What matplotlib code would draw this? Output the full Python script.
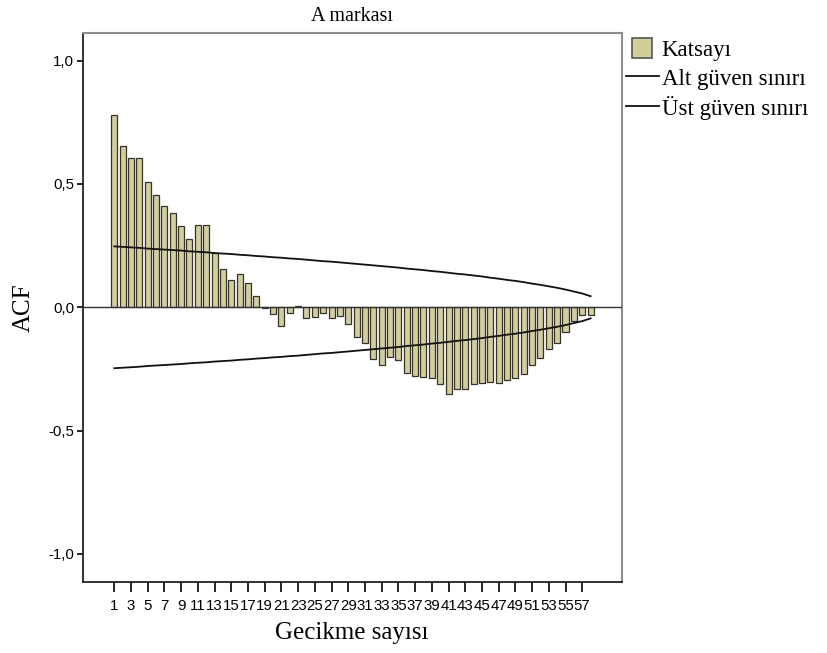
import matplotlib
matplotlib.use("Agg")
import matplotlib.pyplot as plt
import matplotlib.patches as mpatches
from matplotlib.legend_handler import HandlerPatch
import numpy as np

# ACF coefficients for lags 1..58
lags = np.arange(1, 59)
acf = [0.779, 0.653, 0.606, 0.606, 0.509, 0.455, 0.409, 0.381, 0.328, 0.276,
       0.333, 0.333, 0.222, 0.154, 0.111, 0.135, 0.098, 0.046, -0.004, -0.029,
       -0.075, -0.022, 0.004, -0.045, -0.041, -0.025, -0.045, -0.034, -0.069, -0.119,
       -0.146, -0.210, -0.235, -0.201, -0.214, -0.268, -0.279, -0.282, -0.286, -0.309,
       -0.352, -0.333, -0.333, -0.309, -0.305, -0.302, -0.305, -0.296, -0.286, -0.272,
       -0.232, -0.205, -0.170, -0.146, -0.102, -0.054, -0.031, -0.031]

# upper confidence limit per lag (lower limit is its mirror)
upper = [0.247, 0.245, 0.243, 0.241, 0.238, 0.236, 0.234, 0.232, 0.230, 0.227,
         0.225, 0.223, 0.220, 0.218, 0.216, 0.213, 0.211, 0.208, 0.206, 0.203,
         0.201, 0.198, 0.196, 0.193, 0.190, 0.187, 0.185, 0.182, 0.179, 0.176,
         0.173, 0.170, 0.167, 0.164, 0.161, 0.157, 0.154, 0.151, 0.147, 0.144,
         0.140, 0.136, 0.133, 0.129, 0.125, 0.120, 0.116, 0.111, 0.107, 0.102,
         0.096, 0.091, 0.085, 0.079, 0.072, 0.064, 0.056, 0.045]
lower = [-u for u in upper]

xtick_vals = np.arange(1, 58, 2)
ytick_vals = [-1.0, -0.5, 0.0, 0.5, 1.0]
ytick_labels = ["-1,0", "-0,5", "0,0", "0,5", "1,0"]

serif = ["Liberation Serif", "DejaVu Serif"]
sans = ["Liberation Sans", "DejaVu Sans"]


def square_patch(legend, orig_handle, xdescent, ydescent, width, height, fontsize):
    # square swatch inside the wider handle box
    side = height
    return mpatches.Rectangle((-xdescent + 0.16 * width, -ydescent), side, side)


fig = plt.figure(figsize=(8.27, 6.53), dpi=100)
ax = fig.add_axes([0.1000, 0.1083, 0.6517, 0.8407])

bar_color = "#d3ce97"
bars = ax.bar(lags, acf, width=0.72, color=bar_color, edgecolor="#333333",
              linewidth=0.9, label="Katsayı", zorder=2)
ax.axhline(0, color="#333333", linewidth=1.0, zorder=3)
lo_line, = ax.plot(lags, lower, color="#111111", linewidth=1.3,
                   label="Alt güven sınırı", zorder=4)
up_line, = ax.plot(lags, upper, color="#111111", linewidth=1.3,
                   label="Üst güven sınırı", zorder=4)

ax.set_xlim(-2.78, 61.72)
ax.set_ylim(-1.115, 1.111)

ax.set_xticks(xtick_vals)
ax.set_xticklabels([str(v) for v in xtick_vals], family=sans, fontsize=10.8)
ax.set_yticks(ytick_vals)
ax.set_yticklabels(ytick_labels, family=sans, fontsize=10.8)
ax.tick_params(axis="x", direction="out", length=7, width=1.2, pad=5)
ax.tick_params(axis="y", direction="out", length=4, width=1.2, pad=2)

for side in ["top", "right"]:
    ax.spines[side].set_color("#8c8c8c")
    ax.spines[side].set_linewidth(1.5)
for side in ["left", "bottom"]:
    ax.spines[side].set_color("#222222")
    ax.spines[side].set_linewidth(1.3)

ax.set_title("A markası", family=serif, fontsize=14.5, pad=9)
ax.set_xlabel("Gecikme sayısı", family=serif, fontsize=18)
ax.set_ylabel("ACF", family=serif, fontsize=18)
ax.xaxis.set_label_coords(0.5, -0.093)
ax.yaxis.set_label_coords(-0.109, 0.5)
ax.yaxis.label.set_verticalalignment("center")
ax.xaxis.label.set_verticalalignment("center")

swatch = bars.patches[0]
leg = ax.legend(handles=[swatch, lo_line, up_line],
                labels=["Katsayı", "Alt güven sınırı", "Üst güven sınırı"],
                loc="upper left", bbox_to_anchor=(1.0, 1.0), frameon=False,
                prop={"family": serif, "size": 16.5}, handlelength=1.45,
                handleheight=1.0, handletextpad=0.1, borderaxespad=0.0,
                borderpad=0.2, labelspacing=0.25,
                handler_map={type(swatch): HandlerPatch(patch_func=square_patch)})
for patch in leg.get_patches():
    patch.set_edgecolor("#555555")
    patch.set_linewidth(1.2)

fig.savefig("out.png", dpi=100)
